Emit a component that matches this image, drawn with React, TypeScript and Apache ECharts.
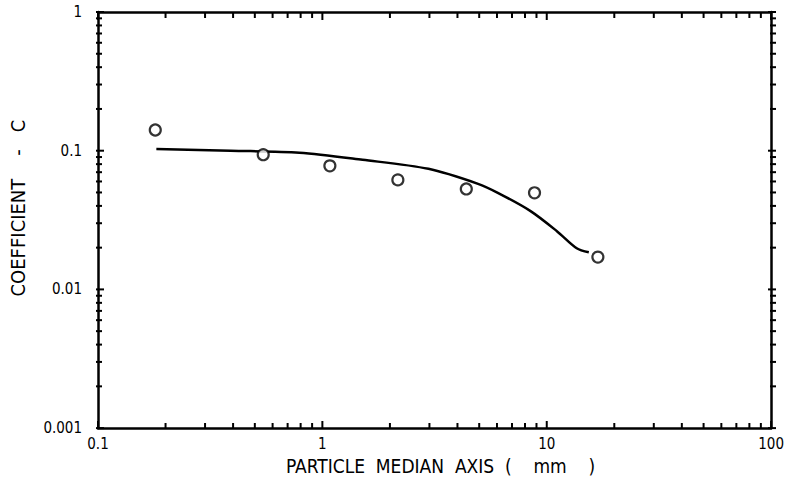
import React, { useEffect, useRef } from "react";
import * as echarts from "echarts";

const pointsX = [0.18, 0.545, 1.08, 2.17, 4.38, 8.82, 16.9];
const pointsY = [0.141, 0.0936, 0.0778, 0.0616, 0.053, 0.0497, 0.0171];

const curveX = [0.182, 0.39, 0.79, 1.51, 2.97, 4.94, 6.05, 8.47, 11.1, 13.6, 15.4];
const curveY = [0.103, 0.1, 0.0968, 0.086, 0.074, 0.0577, 0.0497, 0.0367, 0.0263, 0.0198, 0.0185];

const xMajor = [0.1, 1, 10, 100];
const yMajor = [0.001, 0.01, 0.1, 1];
const xDecades = [0.1, 1, 10];
const yDecades = [0.001, 0.01, 0.1];
const minorMultipliers = [2, 3, 4, 5, 6, 7, 8, 9];

const xTickLabels = ["0.1", "1", "10", "100"];
const yTickLabels = ["0.001", "0.01", "0.1", "1"];

const NB = "\u00A0";
const xTitle = `PARTICLE${NB}${NB}MEDIAN${NB}${NB}AXIS${NB}${NB}(${NB}${NB}${NB}${NB}mm${NB}${NB}${NB}${NB})`;
const yTitle = `COEFFICIENT${NB}${NB}${NB}${NB}-${NB}${NB}${NB}C`;

const FONT = "'DejaVu Sans Condensed', 'Liberation Sans Narrow', 'Liberation Sans', sans-serif";
const INK = "#000000";

const W = 787;
const H = 480;
const GRID = { left: 96, right: 11, top: 12, bottom: 51 };

function nearestLabel(v: number, labels: string[]): string {
  let best = labels[0];
  let bd = Infinity;
  for (const l of labels) {
    const d = Math.abs(Math.log10(parseFloat(l)) - Math.log10(v));
    if (d < bd) {
      bd = d;
      best = l;
    }
  }
  return best;
}

export default function App() {
  const ref = useRef<HTMLDivElement>(null);
  useEffect(() => {
    if (!ref.current) return;
    const chart = echarts.init(ref.current, null, { renderer: "svg" });

    const xMinor: number[] = [];
    xDecades.forEach((d) => minorMultipliers.forEach((m) => xMinor.push(d * m)));
    const yMinor: number[] = [];
    yDecades.forEach((d) => minorMultipliers.forEach((m) => yMinor.push(d * m)));

    const xMin = xMajor[0];
    const xMax = xMajor[xMajor.length - 1];
    const yMin = yMajor[0];
    const yMax = yMajor[yMajor.length - 1];

    const axisLine = { show: true, lineStyle: { color: INK, width: 2.5 } };
    const noTick = { show: false };
    const labelStyle = { color: INK, fontFamily: FONT, fontSize: 15 };

    chart.setOption({
      animation: false,
      backgroundColor: "#ffffff",
      grid: { ...GRID, containLabel: false },
      xAxis: [
        {
          type: "log",
          logBase: 10,
          min: xMin,
          max: xMax,
          position: "bottom",
          axisLine,
          axisTick: noTick,
          splitLine: { show: false },
          axisLabel: {
            ...labelStyle,
            margin: 8,
            formatter: (v: number) => nearestLabel(v, xTickLabels),
          },
          name: xTitle,
          nameLocation: "middle",
          nameGap: 25,
          nameTextStyle: { color: INK, fontFamily: FONT, fontSize: 19, padding: [0, 0, 0, 12] },
        },
        {
          type: "log",
          logBase: 10,
          min: xMin,
          max: xMax,
          position: "top",
          axisLine,
          axisTick: noTick,
          splitLine: { show: false },
          axisLabel: { show: false },
        },
      ],
      yAxis: [
        {
          type: "log",
          logBase: 10,
          min: yMin,
          max: yMax,
          position: "left",
          axisLine,
          axisTick: noTick,
          splitLine: { show: false },
          axisLabel: {
            ...labelStyle,
            margin: 16,
            formatter: (v: number) => nearestLabel(v, yTickLabels),
          },
          name: yTitle,
          nameLocation: "middle",
          nameGap: 70,
          nameTextStyle: { color: INK, fontFamily: FONT, fontSize: 20, padding: [0, 0, 0, 24] },
        },
        {
          type: "log",
          logBase: 10,
          min: yMin,
          max: yMax,
          position: "right",
          axisLine,
          axisTick: noTick,
          splitLine: { show: false },
          axisLabel: { show: false },
        },
      ],
      series: [
        {
          type: "line",
          xAxisIndex: 0,
          yAxisIndex: 0,
          data: curveX.map((x, i) => [x, curveY[i]]),
          smooth: 0.3,
          showSymbol: false,
          symbol: "none",
          lineStyle: { color: INK, width: 2.5 },
          z: 3,
        },
        {
          type: "scatter",
          xAxisIndex: 0,
          yAxisIndex: 0,
          data: pointsX.map((x, i) => [x, pointsY[i]]),
          symbol: "circle",
          symbolSize: 11,
          itemStyle: { color: "#ffffff", borderColor: INK, borderWidth: 2.2 },
          z: 4,
        },
      ],
    });

    // Tick positions come from the library's own axis scales
    const px = (v: number) => chart.convertToPixel({ xAxisIndex: 0 }, v) as number;
    const py = (v: number) => chart.convertToPixel({ yAxisIndex: 0 }, v) as number;
    const L = GRID.left;
    const R = W - GRID.right;
    const T = GRID.top;
    const B = H - GRID.bottom;
    const MAJ = 8;
    const MIN = 6;
    const style = { stroke: INK, lineWidth: 2 };
    const elems: any[] = [];
    const addX = (v: number, len: number) => {
      const x = px(v);
      if (!isFinite(x)) return;
      elems.push({ type: "line", shape: { x1: x, y1: B, x2: x, y2: B - len }, style, silent: true });
      elems.push({ type: "line", shape: { x1: x, y1: T, x2: x, y2: T + len }, style, silent: true });
    };
    const addY = (v: number, len: number) => {
      const y = py(v);
      if (!isFinite(y)) return;
      elems.push({ type: "line", shape: { x1: L, y1: y, x2: L + len, y2: y }, style, silent: true });
      elems.push({ type: "line", shape: { x1: R, y1: y, x2: R - len, y2: y }, style, silent: true });
    };
    xMajor.forEach((v) => addX(v, MAJ));
    xMinor.forEach((v) => addX(v, MIN));
    yMajor.forEach((v) => addY(v, MAJ));
    yMinor.forEach((v) => addY(v, MIN));
    chart.setOption({ graphic: elems.map((e) => ({ ...e, z: 10 })) });

    return () => chart.dispose();
  }, []);

  return (
    <div
      ref={ref}
      style={{ position: "absolute", left: 0, top: 0, width: W, height: H }}
    />
  );
}
